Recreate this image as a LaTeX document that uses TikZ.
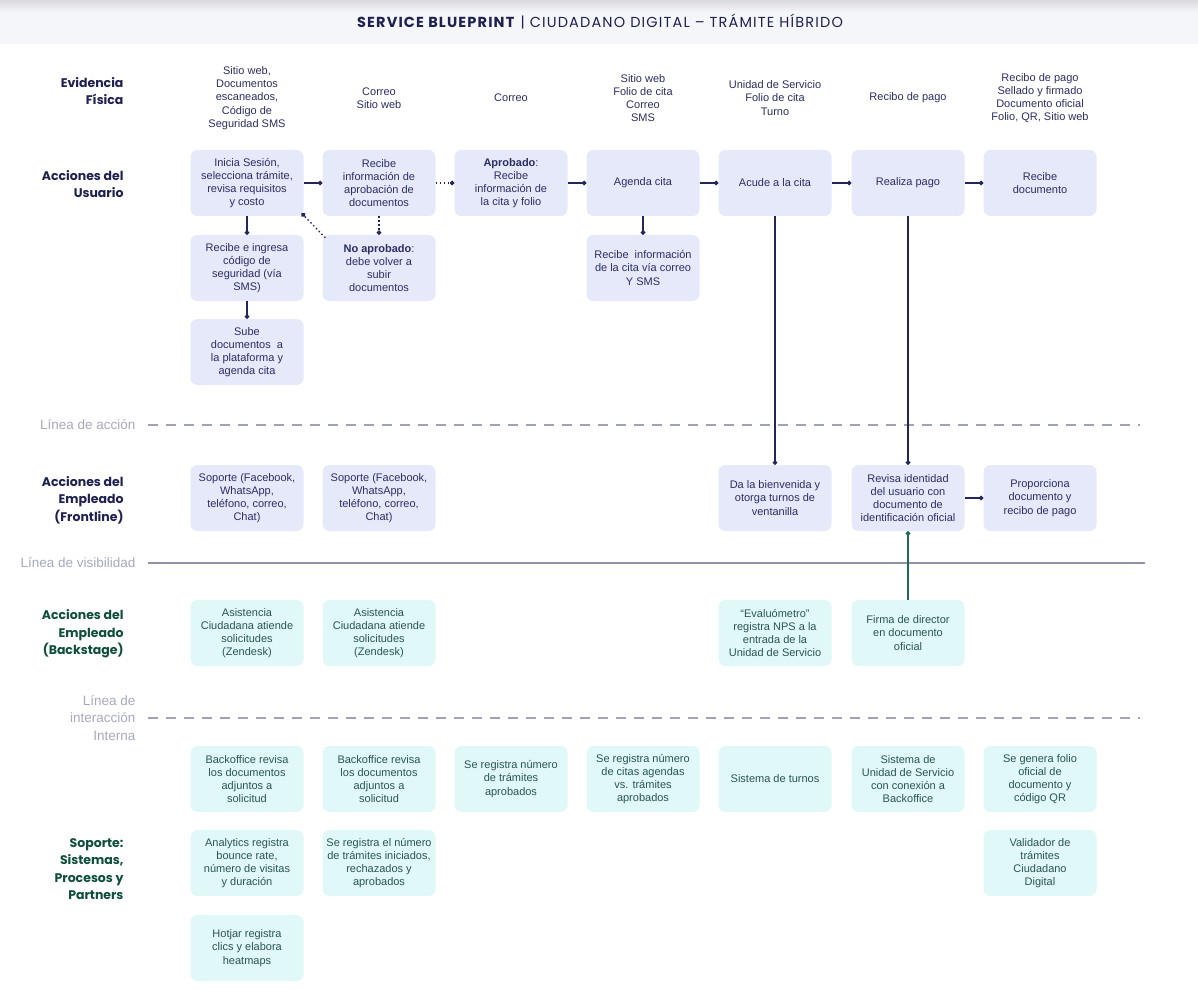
\documentclass[tikz,border=0pt]{standalone}
\usepackage{fontspec}
\setmainfont{Liberation Sans}
\newfontfamily\lanefont{Poppins}
\newfontfamily\titlefont{Poppins}[LetterSpace=8]
\usetikzlibrary{arrows.meta}
\definecolor{navy}{HTML}{23265A}
\definecolor{lanenavy}{HTML}{1E2150}
\definecolor{lanegreen}{HTML}{0E4E3C}
\definecolor{ufill}{HTML}{E6E9FA}
\definecolor{gfill}{HTML}{E0F8F7}
\definecolor{utext}{HTML}{2B2E63}
\definecolor{gtext}{HTML}{2A5650}
\definecolor{linegray}{HTML}{A0A2BA}
\definecolor{linelabel}{HTML}{A7A9C0}
\definecolor{greenconn}{HTML}{1E6A58}
\definecolor{band}{HTML}{F5F6FA}
\definecolor{bandtop}{HTML}{D9D9DE}
\tikzset{
  box/.style={rounded corners=7pt, minimum width=113pt, minimum height=66pt,
    inner xsep=1pt, inner ysep=2pt, align=center,
    font=\fontsize{11}{13.2}\selectfont},
  ubox/.style={box, fill=ufill, text=utext},
  gbox/.style={box, fill=gfill, text=gtext},
  evid/.style={align=center, text=utext, font=\fontsize{11}{13.2}\selectfont},
  lane/.style={anchor=east, align=right, font=\lanefont\bfseries\fontsize{12.5}{17.5}\selectfont},
  linelab/.style={anchor=east, align=right, text=linelabel, font=\fontsize{13.5}{17.5}\selectfont},
  conn/.style={draw=navy, line width=1.4pt, -{Circle[length=4.5pt,width=4.5pt]}},
  dotconn/.style={conn, dash pattern=on 1.4pt off 2.6pt},
  gconn/.style={draw=greenconn, line width=1.4pt, -{Circle[length=4.5pt,width=4.5pt]}},
  divdash/.style={draw=linegray, line width=1.3pt, dash pattern=on 10pt off 8pt},
  divsolid/.style={draw=linegray!90!black, line width=1.3pt}
}
\begin{document}
\begin{tikzpicture}[x=1pt,y=-1pt]
\useasboundingbox (0,0) rectangle (1198,1008);
\fill[white] (0,0) rectangle (1198,1008);
% title band
\fill[band] (0,0) rectangle (1198,44);
\shade[top color=bandtop, bottom color=band] (0,0) rectangle (1198,12);
\node (title) at (600,22) {\titlefont\fontsize{14.5}{16}\selectfont\color{lanenavy}\textbf{SERVICE BLUEPRINT} | CIUDADANO DIGITAL – TRÁMITE HÍBRIDO};

% lane labels
\node[lane, text=lanenavy] (lev) at (127,91) {Evidencia\\Física};
\node[lane, text=lanenavy] (lus) at (127,184) {Acciones del\\Usuario};
\node[lane, text=lanenavy] (lfr) at (127,500) {Acciones del\\Empleado\\(Frontline)};
\node[lane, text=lanegreen] (lbk) at (127,634) {Acciones del\\Empleado\\(Backstage)};
\node[lane, text=lanegreen] (lsp) at (127,869) {Soporte:\\Sistemas,\\Procesos y\\Partners};

% divider lines
\node[linelab] (laccion) at (139,425) {Línea de acción};
\draw[divdash] (148,425) -- (1140,425);
\node[linelab] (lvis) at (139,563) {Línea de visibilidad};
\draw[divsolid] (148,563) -- (1145,563);
\node[linelab] (lint) at (139,718) {Línea de\\interacción\\Interna};
\draw[divdash] (148,718) -- (1140,718);

% evidence
\node[evid] (e1) at (247,98) {Sitio web,\\Documentos\\escaneados,\\Código de\\Seguridad SMS};
\node[evid] (e2) at (379,98) {Correo\\Sitio web};
\node[evid] (e3) at (511,98) {Correo};
\node[evid] (e4) at (643,98) {Sitio web\\Folio de cita\\Correo\\SMS};
\node[evid] (e5) at (775,98) {Unidad de Servicio\\Folio de cita\\Turno};
\node[evid] (e6) at (908,98) {Recibo de pago};
\node[evid] (e7) at (1040,98) {Recibo de pago\\Sellado y firmado\\Documento oficial\\Folio, QR, Sitio web};

% user actions
\node[ubox] (ini) at (247,183) {Inicia Sesión,\\selecciona trámite,\\revisa requisitos\\y costo};
\node[ubox] (rapr) at (379,183) {Recibe\\información de\\aprobación de\\documentos};
\node[ubox] (aprob) at (511,183) {\textbf{Aprobado}:\\Recibe\\información de\\la cita y folio};
\node[ubox] (agenda) at (643,183) {Agenda cita};
\node[ubox] (acude) at (775,183) {Acude a la cita};
\node[ubox] (pago) at (908,183) {Realiza pago};
\node[ubox] (recdoc) at (1040,183) {Recibe\\documento};
\node[ubox] (codigo) at (247,268) {Recibe e ingresa\\código de\\seguridad (vía\\SMS)};
\node[ubox] (noapr) at (379,268) {\textbf{No aprobado}:\\debe volver a\\subir\\documentos};
\node[ubox] (rinfo) at (643,268) {Recibe \ información\\de la cita vía correo\\Y SMS};
\node[ubox] (sube) at (247,352) {Sube\\documentos \ a\\la plataforma y\\agenda cita};

% frontline
\node[ubox] (sop1) at (247,498) {Soporte (Facebook,\\WhatsApp,\\teléfono, correo,\\Chat)};
\node[ubox] (sop2) at (379,498) {Soporte (Facebook,\\WhatsApp,\\teléfono, correo,\\Chat)};
\node[ubox] (bienv) at (775,498) {Da la bienvenida y\\otorga turnos de\\ventanilla};
\node[ubox] (revisa) at (908,498) {Revisa identidad\\del usuario con\\documento de\\identificación oficial};
\node[ubox] (prop) at (1040,498) {Proporciona\\documento y\\recibo de pago};

% backstage
\node[gbox] (asis1) at (247,633) {Asistencia\\Ciudadana atiende\\solicitudes\\(Zendesk)};
\node[gbox] (asis2) at (379,633) {Asistencia\\Ciudadana atiende\\solicitudes\\(Zendesk)};
\node[gbox] (evalu) at (775,633) {“Evaluómetro”\\registra NPS a la\\entrada de la\\Unidad de Servicio};
\node[gbox] (firma) at (908,633) {Firma de director\\en documento\\oficial};

% support
\node[gbox] (bo1) at (247,779) {Backoffice revisa\\los documentos\\adjuntos a\\solicitud};
\node[gbox] (bo2) at (379,779) {Backoffice revisa\\los documentos\\adjuntos a\\solicitud};
\node[gbox] (regapr) at (511,779) {Se registra número\\de trámites\\aprobados};
\node[gbox] (regcit) at (643,779) {Se registra número\\de citas agendas\\vs. trámites\\aprobados};
\node[gbox] (turnos) at (775,779) {Sistema de turnos};
\node[gbox] (sisus) at (908,779) {Sistema de\\Unidad de Servicio\\con conexión a\\Backoffice};
\node[gbox] (folio) at (1040,779) {Se genera folio\\oficial de\\documento y\\código QR};
\node[gbox] (analyt) at (247,863) {Analytics registra\\bounce rate,\\número de visitas\\y duración};
\node[gbox] (regini) at (379,863) {Se registra el número\\de trámites iniciados,\\rechazados y\\aprobados};
\node[gbox] (valid) at (1040,863) {Validador de\\trámites\\Ciudadano\\Digital};
\node[gbox] (hotjar) at (247,948) {Hotjar registra\\clics y elabora\\heatmaps};

% connectors
\draw[conn] (ini.east) -- (rapr.west);
\draw[dotconn] (rapr.east) -- (aprob.west);
\draw[conn] (aprob.east) -- (agenda.west);
\draw[conn] (agenda.east) -- (acude.west);
\draw[conn] (acude.east) -- (pago.west);
\draw[conn] (pago.east) -- (recdoc.west);
\draw[conn] (ini.south) -- (codigo.north);
\draw[conn] (codigo.south) -- (sube.north);
\draw[dotconn] (rapr.south) -- (noapr.north);
\draw[dotconn] ([shift={(3,3)}]noapr.north west) -- ([shift={(-2,-3)}]ini.south east);
\draw[conn] (agenda.south) -- (rinfo.north);
\draw[conn] (acude.south) -- (bienv.north);
\draw[conn] (pago.south) -- (revisa.north);
\draw[conn] (revisa.east) -- (prop.west);
\draw[gconn] (firma.north) -- (revisa.south);
\end{tikzpicture}
\end{document}
